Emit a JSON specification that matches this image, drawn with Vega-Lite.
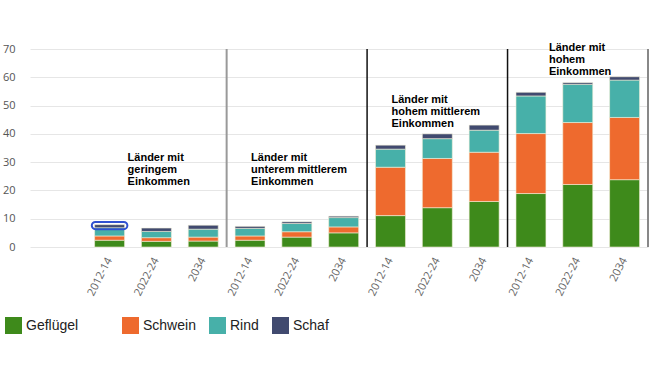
{
  "$schema": "https://vega.github.io/schema/vega-lite/v6.json",
  "autosize": "none",
  "width": 618,
  "height": 198,
  "padding": {"left": 30, "top": 49, "right": 2, "bottom": 119},
  "background": "white",
  "config": {
    "view": {"stroke": null},
    "axisY": {
      "tickCount": 7,
      "labelFont": "Open Sans",
      "labelFontSize": 11,
      "labelColor": "#555555",
      "labelPadding": 15,
      "labelOverlap": false,
      "ticks": false,
      "domain": false,
      "gridColor": "#e6e6e6",
      "gridWidth": 1,
      "title": null
    }
  },
  "datasets": {
    "bars": [
      {"k": "1|2012-14", "Art": "Geflügel", "o": 1, "Wert": 2.4},
      {"k": "1|2012-14", "Art": "Schwein", "o": 2, "Wert": 1.5},
      {"k": "1|2012-14", "Art": "Rind", "o": 3, "Wert": 2.9},
      {"k": "1|2012-14", "Art": "Schaf", "o": 4, "Wert": 1.1},
      {"k": "2|2022-24", "Art": "Geflügel", "o": 1, "Wert": 2.0},
      {"k": "2|2022-24", "Art": "Schwein", "o": 2, "Wert": 1.3},
      {"k": "2|2022-24", "Art": "Rind", "o": 3, "Wert": 2.2},
      {"k": "2|2022-24", "Art": "Schaf", "o": 4, "Wert": 1.2},
      {"k": "3|2034", "Art": "Geflügel", "o": 1, "Wert": 2.1},
      {"k": "3|2034", "Art": "Schwein", "o": 2, "Wert": 1.4},
      {"k": "3|2034", "Art": "Rind", "o": 3, "Wert": 2.8},
      {"k": "3|2034", "Art": "Schaf", "o": 4, "Wert": 1.4},
      {"k": "4|2012-14", "Art": "Geflügel", "o": 1, "Wert": 2.4},
      {"k": "4|2012-14", "Art": "Schwein", "o": 2, "Wert": 1.5},
      {"k": "4|2012-14", "Art": "Rind", "o": 3, "Wert": 2.7},
      {"k": "4|2012-14", "Art": "Schaf", "o": 4, "Wert": 0.7},
      {"k": "5|2022-24", "Art": "Geflügel", "o": 1, "Wert": 3.5},
      {"k": "5|2022-24", "Art": "Schwein", "o": 2, "Wert": 1.9},
      {"k": "5|2022-24", "Art": "Rind", "o": 3, "Wert": 2.9},
      {"k": "5|2022-24", "Art": "Schaf", "o": 4, "Wert": 0.6},
      {"k": "6|2034", "Art": "Geflügel", "o": 1, "Wert": 5.0},
      {"k": "6|2034", "Art": "Schwein", "o": 2, "Wert": 2.1},
      {"k": "6|2034", "Art": "Rind", "o": 3, "Wert": 3.3},
      {"k": "6|2034", "Art": "Schaf", "o": 4, "Wert": 0.5},
      {"k": "7|2012-14", "Art": "Geflügel", "o": 1, "Wert": 11.1},
      {"k": "7|2012-14", "Art": "Schwein", "o": 2, "Wert": 17.1},
      {"k": "7|2012-14", "Art": "Rind", "o": 3, "Wert": 6.4},
      {"k": "7|2012-14", "Art": "Schaf", "o": 4, "Wert": 1.4},
      {"k": "8|2022-24", "Art": "Geflügel", "o": 1, "Wert": 13.9},
      {"k": "8|2022-24", "Art": "Schwein", "o": 2, "Wert": 17.4},
      {"k": "8|2022-24", "Art": "Rind", "o": 3, "Wert": 7.0},
      {"k": "8|2022-24", "Art": "Schaf", "o": 4, "Wert": 1.7},
      {"k": "9|2034", "Art": "Geflügel", "o": 1, "Wert": 16.1},
      {"k": "9|2034", "Art": "Schwein", "o": 2, "Wert": 17.4},
      {"k": "9|2034", "Art": "Rind", "o": 3, "Wert": 7.8},
      {"k": "9|2034", "Art": "Schaf", "o": 4, "Wert": 1.8},
      {"k": "10|2012-14", "Art": "Geflügel", "o": 1, "Wert": 18.9},
      {"k": "10|2012-14", "Art": "Schwein", "o": 2, "Wert": 21.2},
      {"k": "10|2012-14", "Art": "Rind", "o": 3, "Wert": 13.3},
      {"k": "10|2012-14", "Art": "Schaf", "o": 4, "Wert": 1.3},
      {"k": "11|2022-24", "Art": "Geflügel", "o": 1, "Wert": 22.1},
      {"k": "11|2022-24", "Art": "Schwein", "o": 2, "Wert": 21.9},
      {"k": "11|2022-24", "Art": "Rind", "o": 3, "Wert": 13.5},
      {"k": "11|2022-24", "Art": "Schaf", "o": 4, "Wert": 0.6},
      {"k": "12|2034", "Art": "Geflügel", "o": 1, "Wert": 23.8},
      {"k": "12|2034", "Art": "Schwein", "o": 2, "Wert": 22.0},
      {"k": "12|2034", "Art": "Rind", "o": 3, "Wert": 13.2},
      {"k": "12|2034", "Art": "Schaf", "o": 4, "Wert": 1.2}
    ]
  },
  "encoding": {
    "x": {
      "field": "k",
      "type": "nominal",
      "title": null,
      "scale": {
        "domain": ["1|2012-14", "2|2022-24", "3|2034", "4|2012-14", "5|2022-24", "6|2034", "7|2012-14", "8|2022-24", "9|2034", "10|2012-14", "11|2022-24", "12|2034"],
        "paddingInner": 0,
        "paddingOuter": 0.6,
        "align": 1
      },
      "axis": {
        "labelExpr": "split(datum.label, '|')[1]",
        "labelAngle": -63,
        "labelFont": "Open Sans",
        "labelFontSize": 11,
        "labelColor": "#666666",
        "labelPadding": 11,
        "ticks": false,
        "domain": false,
        "grid": false
      }
    }
  },
  "layer": [
    {
      "data": {"name": "bars"},
      "mark": {"type": "bar", "width": {"band": 0.64}, "stroke": "#f3f0d8", "strokeWidth": 0.6},
      "encoding": {
        "y": {
          "field": "Wert",
          "type": "quantitative",
          "aggregate": "sum",
          "stack": "zero",
          "title": null,
          "scale": {"domain": [0, 70], "nice": false}
        },
        "order": {"field": "o", "type": "quantitative", "aggregate": "min", "sort": "ascending"},
        "color": {
          "field": "Art",
          "type": "nominal",
          "sort": ["Geflügel", "Schwein", "Rind", "Schaf"],
          "scale": {
            "domain": ["Geflügel", "Schwein", "Rind", "Schaf"],
            "range": ["#3e8a1b", "#ee6a2e", "#47b0a9", "#414a6f"]
          },
          "legend": {
            "title": null,
            "orient": "none",
            "direction": "horizontal",
            "legendX": -25,
            "legendY": 268,
            "padding": 0,
            "symbolType": "square",
            "symbolSize": 289,
            "symbolStrokeWidth": 0,
            "symbolOpacity": 1,
            "labelFont": "Liberation Sans",
            "labelFontSize": 14,
            "labelColor": "#222222",
            "labelOffset": 4,
            "columnPadding": 13,
            "labelLimit": 300,
            "labelExpr": "datum.label == 'Geflügel' ? 'Geflügel\u2800\u2800\u2800' : datum.label"
          }
        }
      }
    },
    {
      "data": {"values": [{"k": "4|2012-14"}]},
      "mark": {"type": "rule", "color": "#999999", "strokeWidth": 2},
      "encoding": {
        "x": {"field": "k", "type": "nominal", "bandPosition": 0},
        "y": {"datum": 70, "title": null},
        "y2": {"datum": 0}
      }
    },
    {
      "data": {"values": [{"k": "7|2012-14"}, {"k": "10|2012-14"}]},
      "mark": {"type": "rule", "color": "#111111", "strokeWidth": 1.5},
      "encoding": {
        "x": {"field": "k", "type": "nominal", "bandPosition": 0},
        "y": {"datum": 70, "title": null},
        "y2": {"datum": 0}
      }
    },
    {
      "data": {"values": [{"k": "12|2034"}]},
      "mark": {"type": "rule", "color": "#888888", "strokeWidth": 2},
      "encoding": {
        "x": {"field": "k", "type": "nominal", "bandPosition": 1},
        "y": {"datum": 70, "title": null},
        "y2": {"datum": 0}
      }
    },
    {
      "data": {"values": [{"k": "1|2012-14"}]},
      "mark": {"type": "bar", "width": {"band": 0.76}, "fillOpacity": 0, "stroke": "#3050d0", "strokeWidth": 2, "cornerRadius": 4},
      "encoding": {
        "x": {"field": "k", "type": "nominal"},
        "y": {"datum": 8.85, "title": null},
        "y2": {"datum": 6.3}
      }
    },
    {
      "data": {"values": [
        {"k": "1|2012-14", "pos": 33.5, "txt": "Länder mit\ngeringem\nEinkommen"},
        {"k": "10|2012-14", "pos": 72.5, "txt": "Länder mit\nhohem\nEinkommen"}
      ]},
      "mark": {"type": "text", "align": "left", "baseline": "top", "dx": 18, "font": "Liberation Sans", "fontWeight": "bold", "fontSize": 11, "lineHeight": 12, "lineBreak": "\n", "color": "#000000"},
      "encoding": {
        "x": {"field": "k", "type": "nominal"},
        "y": {"field": "pos", "type": "quantitative", "title": null},
        "text": {"field": "txt"}
      }
    },
    {
      "data": {"values": [
        {"k": "4|2012-14", "pos": 33.5, "txt": "Länder mit\nunterem mittlerem\nEinkommen"},
        {"k": "7|2012-14", "pos": 54.1, "txt": "Länder mit\nhohem mittlerem\nEinkommen"}
      ]},
      "mark": {"type": "text", "align": "left", "baseline": "top", "dx": 1, "font": "Liberation Sans", "fontWeight": "bold", "fontSize": 11, "lineHeight": 12, "lineBreak": "\n", "color": "#000000"},
      "encoding": {
        "x": {"field": "k", "type": "nominal"},
        "y": {"field": "pos", "type": "quantitative", "title": null},
        "text": {"field": "txt"}
      }
    }
  ]
}
